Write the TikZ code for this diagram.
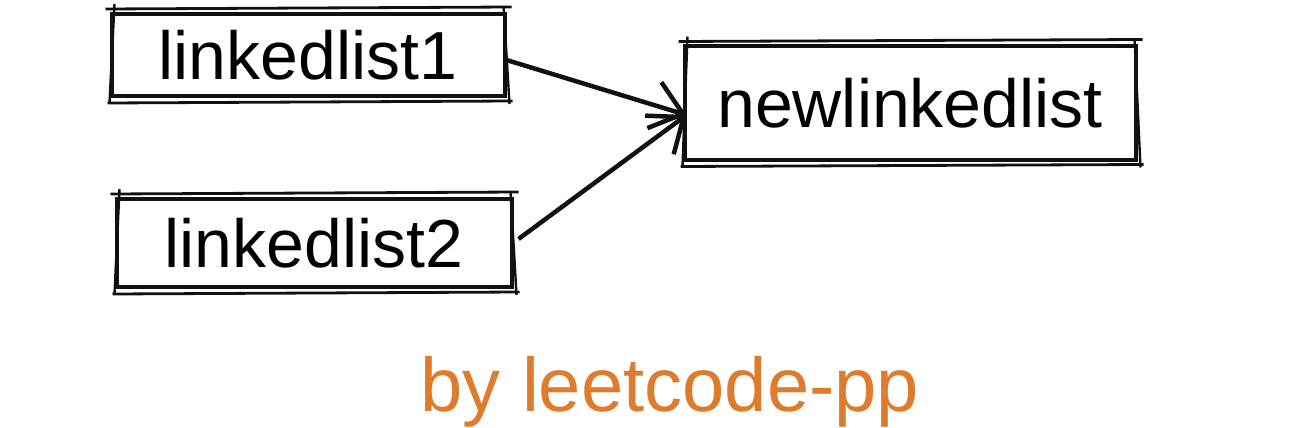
\documentclass[tikz,border=0pt]{standalone}
\usepackage{fontspec}
\usepackage{xcolor}
\usepackage{tikz}
\usetikzlibrary{arrows.meta}
\setmainfont{Liberation Sans}
\definecolor{ink}{HTML}{111111}
\definecolor{brand}{HTML}{DE7C2E}
\newcommand{\sketchrim}[1]{%
  \draw[ink, line width=2.8pt] ([shift={(-4,-3)}]#1.north west) -- ([shift={(5,-5)}]#1.north east);
  \draw[ink, line width=2.8pt] ([shift={(-2,5)}]#1.south west) -- ([shift={(6,3)}]#1.south east);
  \draw[ink, line width=2.4pt] ([shift={(5,-8)}]#1.north west) -- ([shift={(0,5)}]#1.south west);
  \draw[ink, line width=2.4pt] ([shift={(-3,-6)}]#1.north east) -- ([shift={(3,6)}]#1.south east);
}

\begin{document}
\begin{tikzpicture}[x=1pt, y=-1pt, >={Straight Barb[length=30pt,width=48pt]},
  listbox/.style={draw=ink, line width=4pt, inner sep=0pt, font=\fontsize{68}{68}\selectfont},
  link/.style={->, ink, line width=4.5pt}]
  \useasboundingbox[fill=white] (0,0) rectangle (1310,428);
  % Lists
  \node[listbox, minimum width=393pt, minimum height=82pt] (list1) at (308,55) {linkedlist1};
  \node[listbox, minimum width=395pt, minimum height=88pt] (list2) at (314,243) {linkedlist2};
  \node[listbox, minimum width=451pt, minimum height=113pt] (merged) at (910,103) {newlinkedlist};
  \sketchrim{list1}
  \sketchrim{list2}
  \sketchrim{merged}
  % Links
  \draw[link] ([yshift=-5pt]list1.east) -- ([shift={(4pt,-12pt)}]merged.west);
  \draw[link] ([shift={(5pt,4pt)}]list2.east) -- ([shift={(4pt,-12pt)}]merged.west);
  % Credit
  \node[brand, font=\fontsize{76}{76}\selectfont] (credit) at (670,392) {by leetcode-pp};
\end{tikzpicture}
\end{document}
